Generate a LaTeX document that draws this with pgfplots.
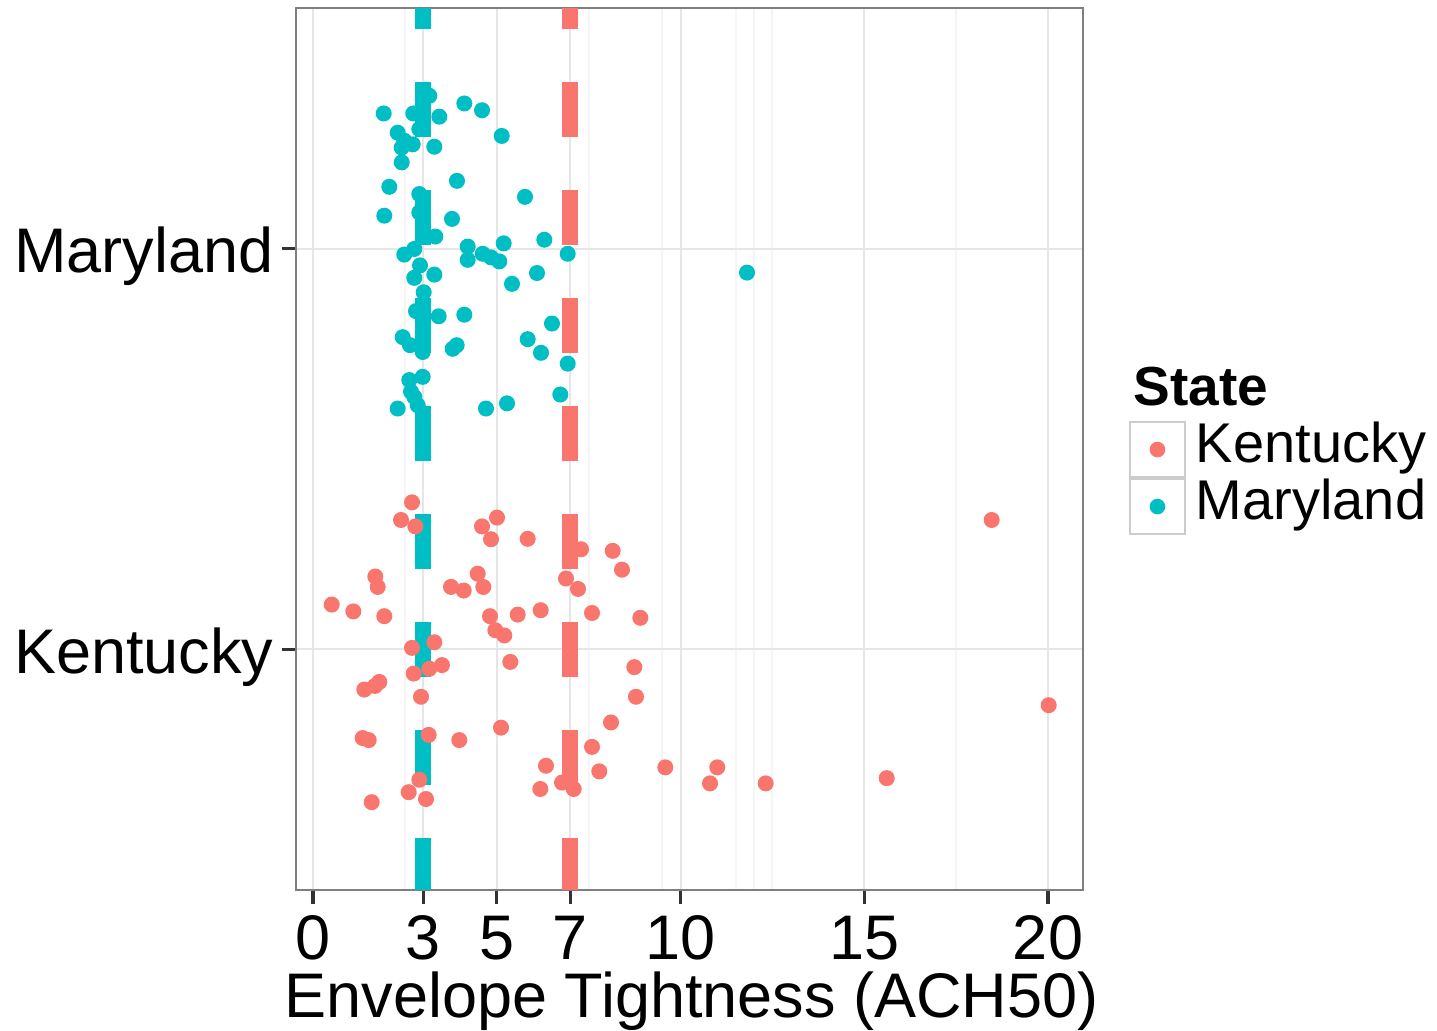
\documentclass[border=0pt]{standalone}
\usepackage{pgfplots}
\pgfplotsset{compat=1.18}
\usepackage{fontspec}
\setmainfont{Liberation Sans}
\definecolor{kycol}{HTML}{F8766D}
\definecolor{mdcol}{HTML}{00BFC4}
\definecolor{gridmaj}{HTML}{E6E6E6}
\definecolor{gridmin}{HTML}{F5F5F5}
\definecolor{framecol}{HTML}{7F7F7F}
\definecolor{keybox}{HTML}{CCCCCC}
\begin{document}
\begin{tikzpicture}
\path[use as bounding box] (0pt,0pt) rectangle (359.25pt,-257.5pt);
\begin{axis}[
  at={(74pt,-222.5pt)}, anchor=south west,
  scale only axis, width=196.75pt, height=220.5pt,
  xmin=-0.4626, xmax=20.952, ymin=0.4, ymax=2.6,
  xtick={0,3,5,7,10,15,20},
  minor xtick={2.5,7.5,9.5,11.5,12,12.5,17.5},
  ytick={1,2}, yticklabels={Kentucky,Maryland},
  xmajorgrids, xminorgrids, ymajorgrids,
  major grid style={gridmaj, line width=0.5pt},
  minor grid style={gridmin, line width=0.5pt},
  minor tick length=0pt,
  tick align=outside, major tick length=3.5pt,
  xtick pos=bottom, ytick pos=left,
  tick style={black!80, line width=0.8pt},
  axis line style={framecol, line width=0.65pt},
  /pgf/number format/assume math mode=true,
  ticklabel style={font=\fontsize{15.75}{18}\selectfont, inner sep=0pt},
  xticklabel style={anchor=base, yshift=-13.75pt},
  yticklabel style={anchor=base east, xshift=-2pt, yshift=-6pt},
  xlabel={Envelope Tightness (ACH50)},
  xlabel style={at={(axis description cs:0.5,0)}, anchor=base, yshift=-31.75pt, xshift=0.5pt, inner sep=0pt, font=\fontsize{15.75}{18}\selectfont},
  legend style={at={(axis description cs:1.0584,0.5317)}, anchor=north west,
    draw=none, fill=none, inner sep=0pt, outer sep=0pt, row sep=0pt, column sep=2.5pt,
    font=\fontsize{14}{16}\selectfont,
    nodes={inner sep=0pt, text height=10pt, text depth=3.75pt}},
  legend cell align=left,
]
\addplot[mdcol, line width=4pt, dash pattern=on 13.75pt off 13.25pt, dash phase=0.75pt, forget plot] coordinates {(3,0.4) (3,2.6)};
\addplot[kycol, line width=4pt, dash pattern=on 13.75pt off 13.25pt, dash phase=0.75pt, forget plot] coordinates {(7,0.4) (7,2.6)};
\addplot[only marks, mark=*, mark size=1.8pt, color=kycol, mark options={draw=none, fill=kycol},
  legend image code/.code={\draw[keybox, line width=0.5pt, fill=white] (0pt,-6.875pt) rectangle (13.75pt,6.875pt); \fill[kycol] (6.875pt,0pt) circle (1.75pt);}]
coordinates {
(2.694,1.367) (2.395,1.323) (2.784,1.307) (4.599,1.307) (5.007,1.329)
(4.844,1.275) (5.842,1.276) (7.293,1.250) (8.155,1.246) (8.408,1.199)
(1.695,1.182) (1.761,1.156) (4.482,1.189) (3.755,1.156) (4.101,1.147)
(4.634,1.156) (6.884,1.177) (7.211,1.151) (0.509,1.112) (1.097,1.095)
(1.940,1.083) (4.816,1.083) (5.570,1.087) (6.196,1.098) (7.592,1.091)
(8.906,1.079) (4.961,1.048) (5.205,1.035) (2.694,1.004) (3.301,1.018)
(5.369,0.969) (8.743,0.956) (3.165,0.952) (3.510,0.961) (2.740,0.940)
(1.396,0.900) (1.687,0.909) (1.804,0.919) (2.939,0.882) (8.789,0.882)
(5.116,0.805) (8.109,0.818) (1.352,0.779) (1.516,0.774) (3.148,0.787)
(3.981,0.774) (7.592,0.757) (6.340,0.710) (7.790,0.696) (9.586,0.706)
(2.893,0.675) (2.604,0.644) (3.075,0.627) (1.597,0.619) (6.185,0.652)
(6.776,0.668) (7.094,0.652) (18.468,1.323) (20.019,0.861) (11.001,0.706)
(10.803,0.666) (12.318,0.666) (15.611,0.679)
};
\addlegendentry{Kentucky}
\addplot[only marks, mark=*, mark size=1.8pt, color=mdcol, mark options={draw=none, fill=mdcol},
  legend image code/.code={\draw[keybox, line width=0.5pt, fill=white] (0pt,-6.875pt) rectangle (13.75pt,6.875pt); \fill[mdcol] (6.875pt,0pt) circle (1.75pt);}]
coordinates {
(3.165,2.381) (4.117,2.362) (4.599,2.345) (1.924,2.337) (2.729,2.337)
(3.437,2.329) (2.305,2.289) (2.893,2.298) (5.135,2.281) (2.484,2.269)
(2.713,2.260) (2.414,2.252) (3.301,2.254) (2.414,2.215) (3.918,2.169)
(2.076,2.154) (2.893,2.136) (5.769,2.129) (1.940,2.082) (2.893,2.090)
(3.782,2.074) (3.328,2.030) (6.294,2.022) (4.210,2.005) (5.189,2.013)
(2.756,1.999) (2.484,1.985) (4.210,1.972) (4.618,1.987) (4.844,1.978)
(5.069,1.968) (6.931,1.987) (2.912,1.958) (3.301,1.935) (2.756,1.927)
(6.095,1.939) (5.415,1.912) (3.012,1.891) (2.803,1.844) (3.420,1.831)
(4.117,1.835) (6.503,1.813) (2.441,1.779) (2.639,1.759) (2.985,1.742)
(5.842,1.774) (3.801,1.750) (3.910,1.759) (6.204,1.740) (6.931,1.713)
(2.985,1.680) (2.620,1.672) (2.667,1.643) (2.756,1.630) (2.305,1.601)
(4.707,1.601) (5.279,1.614) (6.729,1.636) (11.810,1.940) (2.850,1.609)
};
\addlegendentry{Maryland}
\end{axis}
\node[anchor=base west, inner sep=0pt, font=\bfseries\fontsize{13.75}{16}\selectfont] at (283.25pt,-101.25pt) {State};
\end{tikzpicture}
\end{document}
